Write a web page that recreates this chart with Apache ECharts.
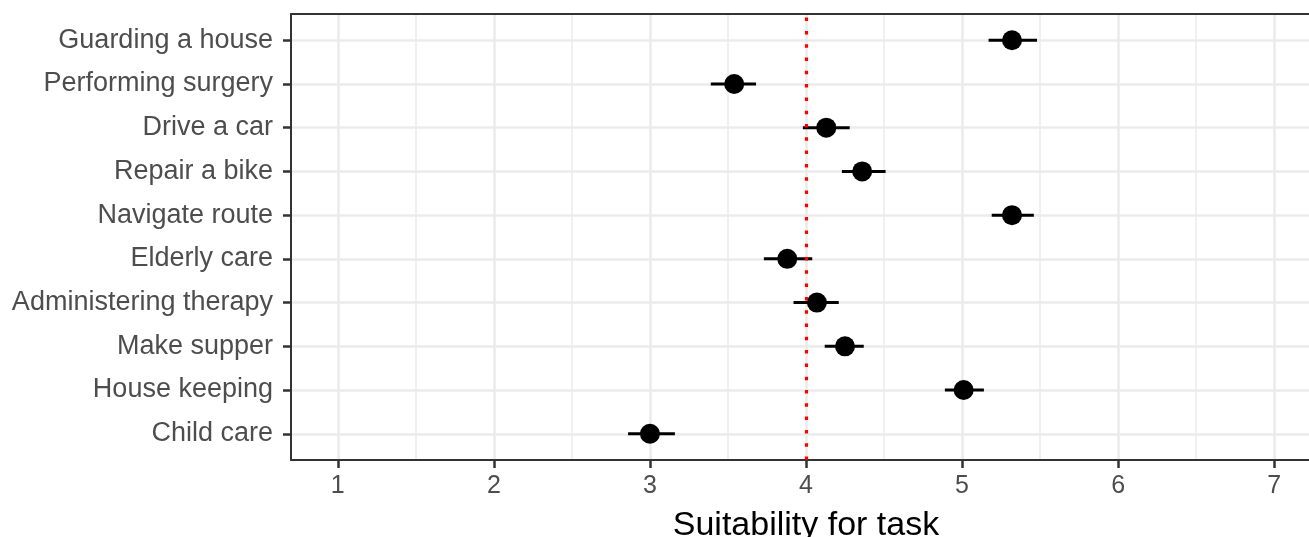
<!DOCTYPE html>
<html>
<head>
<meta charset="utf-8">
<script src="https://cdn.jsdelivr.net/npm/echarts@6/dist/echarts.min.js"></script>
<style>
  html, body { margin: 0; padding: 0; background: #fff; }
  #chart { width: 1309px; height: 537px; }
</style>
</head>
<body>
<div id="chart"></div>
<script>
// tasks, bottom row first
const categories = ['Child care', 'House keeping', 'Make supper', 'Administering therapy', 'Elderly care',
  'Navigate route', 'Repair a bike', 'Drive a car', 'Performing surgery', 'Guarding a house']
const means = [3.00, 5.01, 4.25, 4.07, 3.88, 5.32, 4.36, 4.13, 3.54, 5.32]
const lower = [2.86, 4.89, 4.12, 3.92, 3.73, 5.19, 4.23, 3.98, 3.39, 5.17]
const upper = [3.16, 5.14, 4.37, 4.21, 4.04, 5.46, 4.51, 4.28, 3.68, 5.48]
const xTicks = [1, 2, 3, 4, 5, 6, 7]
const xMinor = [1.5, 2.5, 3.5, 4.5, 5.5, 6.5]
const yTicks = [1, 2, 3, 4, 5, 6, 7, 8, 9, 10]
const midpoint = 4

const font = 'Liberation Sans, Arial, Helvetica, sans-serif'
const gridColor = '#ebebeb'
const borderColor = '#333333'

const chart = echarts.init(document.getElementById('chart'))

chart.setOption({
  animation: false,
  grid: {
    left: 291,
    top: 14,
    width: 1030,
    height: 446,
    containLabel: false,
    outerBoundsMode: 'none'
  },
  xAxis: [{
    type: 'value',
    position: 'bottom',
    min: 0.7,
    max: 7.3,
    name: 'Suitability for task',
    nameLocation: 'middle',
    nameGap: 49,
    nameTextStyle: { fontFamily: font, fontSize: 34, color: '#000' },
    axisLine: { show: true, onZero: false, lineStyle: { color: borderColor, width: 2 } },
    axisTick: { show: true, length: 8, customValues: xTicks, lineStyle: { color: borderColor, width: 2.5 } },
    axisLabel: { customValues: xTicks, margin: 14, fontFamily: font, fontSize: 25, color: '#4d4d4d' },
    splitLine: { show: true, lineStyle: { color: gridColor, width: 2.5 } }
  }, {
    // minor grid + top border
    type: 'value',
    position: 'top',
    min: 0.7,
    max: 7.3,
    axisLine: { show: true, onZero: false, lineStyle: { color: borderColor, width: 2 } },
    axisTick: { show: false, customValues: xMinor },
    axisLabel: { show: false, customValues: xMinor },
    splitLine: { show: true, lineStyle: { color: gridColor, width: 1.5 } }
  }],
  yAxis: {
    type: 'value',
    min: 0.4,
    max: 10.6,
    axisLine: { show: true, onZero: false, lineStyle: { color: borderColor, width: 2 } },
    axisTick: { show: true, length: 8, customValues: yTicks, lineStyle: { color: borderColor, width: 2.5 } },
    axisLabel: {
      customValues: yTicks,
      margin: 18,
      fontFamily: font,
      fontSize: 27,
      color: '#4d4d4d',
      formatter: v => categories[Math.round(v) - 1]
    },
    splitLine: { show: true, lineStyle: { color: gridColor, width: 2.5 } }
  },
  series: [{
    type: 'custom',
    name: 'ci',
    z: 2,
    renderItem: (params, api) => {
      const a = api.coord([api.value(0), api.value(2)])
      const b = api.coord([api.value(1), api.value(2)])
      return {
        type: 'line',
        shape: { x1: a[0], y1: a[1], x2: b[0], y2: b[1] },
        style: { stroke: '#000', lineWidth: 3 }
      }
    },
    encode: { x: [0, 1], y: 2 },
    data: categories.map((c, i) => [lower[i], upper[i], i + 1])
  }, {
    type: 'scatter',
    name: 'mean',
    z: 3,
    symbol: 'circle',
    symbolSize: 20,
    itemStyle: { color: '#000', opacity: 1 },
    data: categories.map((c, i) => [means[i], i + 1]),
    markLine: {
      silent: true,
      symbol: ['none', 'none'],
      label: { show: false },
      emphasis: { disabled: true },
      lineStyle: { color: '#ff0000', width: 3.2, type: [3.5, 9.8], opacity: 1 },
      data: [{ xAxis: midpoint }]
    }
  }]
})
</script>
</body>
</html>
